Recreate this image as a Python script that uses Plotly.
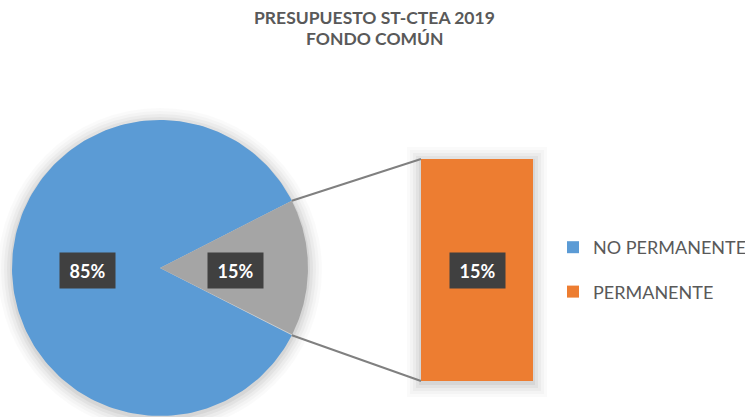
import numpy as np
import plotly.graph_objects as go

# ---- data ----
categories = ["NO PERMANENTE", "PERMANENTE"]
values = [85, 15]
title_lines = ["PRESUPUESTO ST-CTEA 2019", "FONDO COMÚN"]

colors = {"NO PERMANENTE": "#5B9BD5", "PERMANENTE": "#ED7D31", "other": "#A5A5A5"}

W, H = 745, 417
cx, cy, R = 160, 268, 148          # pie geometry (pixel axis units)
bar_x0, bar_x1, bar_top = 421, 533, 159
bar_h_total = 222

total = sum(values)
other_val = values[1]
main_val = values[0]
other_frac = other_val / total

fig = go.Figure()

def sector(t0, t1, n=200):
    th = np.linspace(np.radians(t0), np.radians(t1), n)
    xs = np.concatenate([[cx], cx + R * np.cos(th), [cx]])
    ys = np.concatenate([[cy], cy - R * np.sin(th), [cy]])
    return xs, ys

half = other_frac * 360 / 2

# soft shadows (decorative, below traces)
shapes = []
for k, op in [(14, 0.02), (11, 0.025), (8, 0.03), (5, 0.04), (2, 0.05)]:
    shapes.append(dict(type="circle", xref="x", yref="y", x0=cx - R - k, x1=cx + R + k,
                       y0=cy + 2 - R - k, y1=cy + 2 + R + k, fillcolor=f"rgba(0,0,0,{op})",
                       line=dict(width=0), layer="below"))
    shapes.append(dict(type="rect", xref="x", yref="y", x0=bar_x0 - k, x1=bar_x1 + k,
                       y0=bar_top - k + 2, y1=bar_top + bar_h_total + k + 2,
                       fillcolor=f"rgba(0,0,0,{op})", line=dict(width=0), layer="below"))

xs, ys = sector(half, 360 - half)
fig.add_trace(go.Scatter(x=xs, y=ys, fill="toself", mode="lines", line=dict(width=0),
                         fillcolor=colors["NO PERMANENTE"], hoverinfo="skip", showlegend=False))
xs, ys = sector(-half, half)
fig.add_trace(go.Scatter(x=xs, y=ys, fill="toself", mode="lines", line=dict(width=0),
                         fillcolor=colors["other"], hoverinfo="skip", showlegend=False))

# connector lines
ux, uy = cx + R * np.cos(np.radians(half)), cy - R * np.sin(np.radians(half))
lx, ly = cx + R * np.cos(np.radians(-half)), cy - R * np.sin(np.radians(-half))
fig.add_trace(go.Scatter(x=[ux, bar_x0], y=[uy, bar_top], mode="lines",
                         line=dict(color="#808080", width=2), hoverinfo="skip", showlegend=False))
fig.add_trace(go.Scatter(x=[lx, bar_x0], y=[ly, bar_top + bar_h_total], mode="lines",
                         line=dict(color="#808080", width=2), hoverinfo="skip", showlegend=False))

# bar (second plot)
scale = bar_h_total / other_val
fig.add_trace(go.Bar(x=[(bar_x0 + bar_x1) / 2], y=[other_val * scale], base=[bar_top],
                     width=[bar_x1 - bar_x0], marker=dict(color=colors["PERMANENTE"], line=dict(width=0)),
                     name=categories[1], showlegend=False, hoverinfo="skip"))

# legend entries
for i, c in enumerate(categories):
    fig.add_trace(go.Scatter(x=[None], y=[None], name=c, mode="markers",
                             marker=dict(color=colors[c], symbol="square", size=12),
                             legendgroup=f"g{i}", showlegend=True))

# labels
lab_font = dict(family="Lato", size=18, color="white")
def lab(x, y, v):
    fig.add_annotation(x=x, y=y, text=f"<b>{v:.0f}%</b>", showarrow=False, font=lab_font,
                       bgcolor="#404040", width=53, height=33, xref="x", yref="y")
lab(cx - R * 0.49, cy + 2, 100 * main_val / total)
lab(cx + R * 0.51, cy + 2, 100 * other_val / total)
lab((bar_x0 + bar_x1) / 2, bar_top + bar_h_total / 2, 100 * other_val / total)

# title
for i, t in enumerate(title_lines):
    fig.add_annotation(x=W / 2 + 2, y=17.5 + 21 * i, text=f"<b>{t}</b>", showarrow=False,
                       font=dict(family="Lato", size=17.5, color="#595959"), xref="x", yref="y")

fig.update_layout(
    width=W, height=H, margin=dict(l=0, r=0, t=0, b=0, autoexpand=False),
    paper_bgcolor="white", plot_bgcolor="white",
    xaxis=dict(range=[0, W], visible=False, fixedrange=True),
    yaxis=dict(range=[H, 0], visible=False, fixedrange=True),
    showlegend=True, barmode="overlay", shapes=shapes,
    legend=dict(x=553 / W, y=1 - 229 / H, xanchor="left", yanchor="top",
                font=dict(family="Lato", size=18, color="#595959"),
                traceorder="grouped", tracegroupgap=18, bgcolor="rgba(0,0,0,0)"),
)

fig.write_html("out.html", config={"displayModeBar": False},
               post_script="document.body.style.margin='0';document.body.style.overflow='hidden';")
